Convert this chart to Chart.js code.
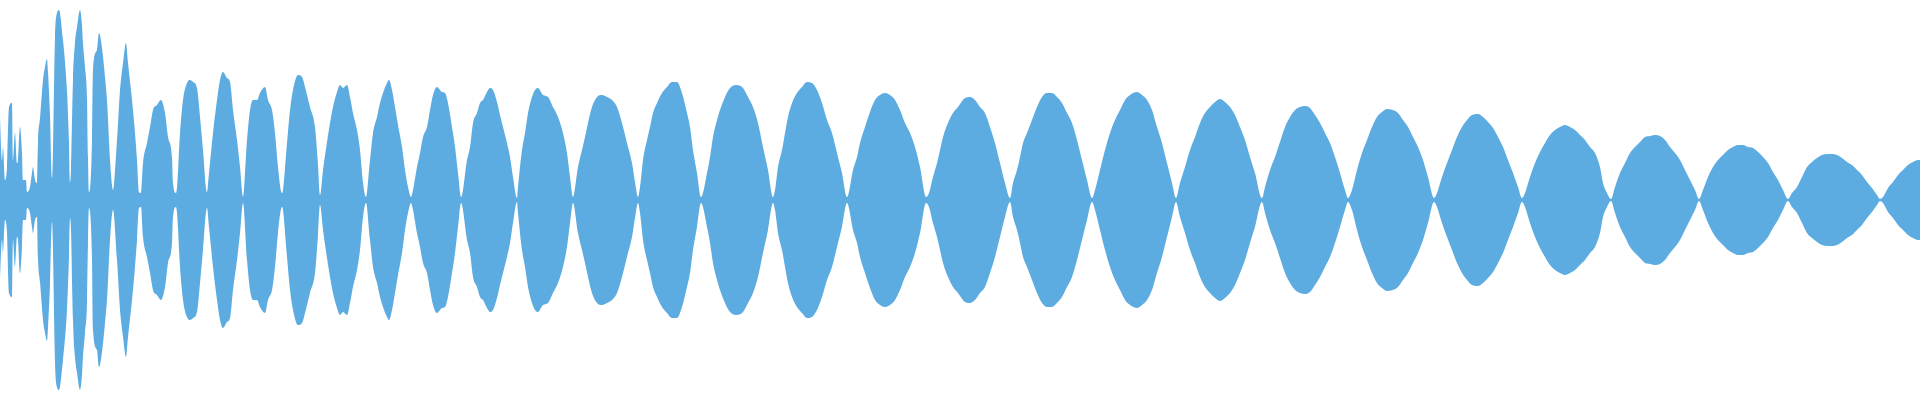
<!DOCTYPE html>
<html>
<head>
<meta charset="utf-8">
<style>
  html, body { margin: 0; padding: 0; background: #fff; }
  #wave { display: block; }
</style>
<script src="https://cdn.jsdelivr.net/npm/chart.js@4/dist/chart.umd.min.js"></script>
</head>
<body>
<canvas id="wave" width="1920" height="400"></canvas>
<script>
// 波形のエンベロープ（読み取り値）: フレーム位置とピークレベル（フルスケール 200）
const frames = [
  0, 2, 3, 5, 7, 9, 12, 13, 15, 17, 18, 20, 22, 23, 26, 27, 30, 32, 33, 35, 37, 38,
  40, 43, 45, 47, 48, 50, 52,
  55, 57, 59, 63, 67, 69, 70,
  71, 73, 75, 77, 80, 82, 83, 85, 87, 88, 89,
  92, 93, 97, 99, 102, 105, 107, 110, 113,
  117, 120, 123, 126, 128, 132, 135, 137, 139,
  141, 143, 147, 150, 153, 157, 161, 165, 168, 172, 173, 176,
  177, 180, 183, 187, 190, 193, 197, 200, 203, 207,
  209, 213, 217, 220, 223, 227, 230, 233, 237, 240, 243,
  247, 250, 253, 257, 260, 265, 268, 272, 275, 278, 282,
  283, 287, 290, 293, 298, 302, 305, 310, 315, 318, 320,
  323, 327, 330, 333, 337, 340, 343, 347, 350, 353, 357, 360, 363, 366,
  370, 373, 377, 380, 383, 387, 389, 392, 395, 398, 402, 405, 408, 411,
  413, 417, 420, 423, 427, 430, 433, 437, 442, 445, 448, 452, 455, 458, 461,
  467, 470, 473, 477, 480, 483, 487, 490, 493, 497, 500, 503, 507, 510, 513, 517,
  518, 522, 525, 528, 532, 535, 538, 543, 548, 553, 558, 563, 567, 570, 573,
  578, 582, 585, 588, 592, 597, 602, 607, 612, 617, 622, 627, 632, 635, 638,
  640, 643, 647, 650, 653, 657, 662, 667, 672, 677, 682, 687, 690, 693, 697, 701,
  707, 710, 713, 717, 720, 725, 730, 737, 743, 748, 753, 758, 763, 768, 773,
  775, 778, 782, 785, 788, 792, 797, 802, 807, 812, 817, 822, 827, 832, 837, 842, 847,
  853, 857, 860, 865, 870, 875, 880, 885, 890, 895, 900, 905, 910, 915, 920, 926,
  929, 933, 937, 940, 943, 948, 953, 958, 965, 970, 975, 980, 985, 990, 995, 1000, 1005, 1010,
  1013, 1017, 1020, 1023, 1027, 1032, 1037, 1042, 1047, 1052, 1057, 1062, 1067, 1072, 1077, 1082, 1087, 1092,
  1095, 1100, 1105, 1110, 1115, 1120, 1125, 1130, 1137, 1142, 1147, 1152, 1157, 1162, 1167, 1172, 1176,
  1180, 1185, 1190, 1195, 1200, 1205, 1210, 1215, 1220, 1225, 1230, 1235, 1240, 1245, 1250, 1255, 1262,
  1265, 1270, 1275, 1280, 1285, 1290, 1295, 1300, 1305, 1310, 1315, 1320, 1325, 1330, 1335, 1340, 1345, 1348,
  1352, 1357, 1362, 1367, 1372, 1377, 1382, 1387, 1393, 1398, 1403, 1408, 1413, 1418, 1423, 1428, 1434,
  1437, 1442, 1447, 1452, 1457, 1462, 1467, 1472, 1478, 1483, 1488, 1493, 1498, 1503, 1508, 1513, 1518, 1522,
  1525, 1530, 1535, 1540, 1545, 1550, 1555, 1560, 1565, 1570, 1575, 1580, 1585, 1590, 1595, 1600, 1603, 1607, 1611,
  1615, 1620, 1625, 1630, 1635, 1640, 1645, 1650, 1655, 1660, 1665, 1670, 1675, 1680, 1685, 1690, 1695, 1699,
  1703, 1708, 1713, 1718, 1723, 1728, 1733, 1738, 1743, 1748, 1753, 1758, 1763, 1768, 1773, 1778, 1783, 1788,
  1792, 1797, 1802, 1807, 1812, 1817, 1822, 1827, 1832, 1837, 1842, 1847, 1852, 1857, 1862, 1867, 1872, 1877, 1880,
  1883, 1888, 1893, 1898, 1903, 1908, 1913, 1918, 1920
];

const peaks = [
  82, 40, 53, 20, 33, 93, 97, 40, 67, 37, 40, 73, 47, 20, 20, 8, 13, 27, 33, 20, 17, 58,
  82, 120, 133, 141, 128, 85, 22,
  163, 187, 190, 160, 110, 57, 18,
  30, 120, 157, 173, 190, 175, 157, 133, 103, 43, 8,
  60, 130, 150, 167, 152, 123, 100, 40, 10,
  60, 110, 137, 157, 137, 100, 67, 40, 8,
  7, 37, 57, 73, 90, 95, 100, 87, 63, 43, 17, 7,
  13, 67, 100, 117, 120, 118, 112, 83, 50, 8,
  27, 67, 100, 120, 128, 122, 118, 90, 60, 33, 3,
  60, 90, 100, 100, 107, 113, 100, 90, 67, 33, 7,
  10, 57, 90, 110, 125, 123, 113, 93, 73, 35, 5,
  30, 58, 77, 93, 108, 115, 112, 115, 103, 87, 70, 50, 17, 3,
  40, 67, 83, 97, 107, 117, 120, 110, 93, 75, 53, 30, 13, 3,
  10, 33, 47, 63, 73, 90, 105, 113, 108, 107, 97, 73, 53, 27, 3,
  40, 53, 77, 87, 97, 100, 108, 112, 110, 98, 85, 73, 57, 43, 23, 2,
  13, 50, 67, 87, 103, 110, 112, 105, 103, 93, 83, 67, 47, 23, 3,
  33, 50, 63, 77, 93, 103, 105, 103, 100, 93, 77, 57, 37, 18, 3,
  13, 40, 60, 73, 87, 97, 107, 113, 118, 118, 107, 87, 73, 50, 27, 3,
  27, 43, 63, 80, 90, 103, 112, 115, 112, 103, 93, 77, 53, 30, 3,
  10, 33, 50, 67, 83, 97, 107, 113, 118, 117, 110, 97, 80, 67, 47, 27, 3,
  30, 43, 57, 73, 88, 100, 105, 107, 105, 100, 90, 77, 67, 53, 33, 3,
  7, 23, 37, 50, 63, 77, 87, 93, 102, 103, 100, 93, 87, 73, 57, 37, 17, 2,
  17, 30, 43, 57, 67, 80, 93, 103, 107, 107, 103, 97, 87, 77, 60, 40, 20, 2,
  10, 30, 50, 67, 80, 90, 100, 105, 108, 105, 100, 90, 73, 57, 37, 17, 2,
  17, 33, 50, 63, 77, 87, 93, 98, 101, 98, 93, 85, 73, 60, 43, 27, 2,
  13, 30, 43, 58, 73, 83, 90, 93, 94, 92, 85, 77, 67, 57, 43, 27, 10, 2,
  10, 30, 47, 60, 73, 83, 88, 91, 90, 87, 80, 73, 63, 53, 40, 23, 2,
  7, 23, 37, 50, 63, 73, 80, 85, 86, 83, 78, 72, 63, 53, 40, 27, 13, 2,
  7, 23, 37, 48, 57, 65, 70, 73, 75, 73, 70, 65, 60, 53, 47, 33, 17, 7, 1,
  13, 27, 37, 47, 53, 58, 63, 64, 65, 64, 60, 53, 47, 40, 30, 20, 10, 1,
  10, 23, 33, 40, 45, 50, 53, 55, 55, 53, 52, 48, 43, 37, 28, 20, 10, 1,
  7, 13, 23, 33, 38, 42, 45, 46, 46, 45, 42, 38, 35, 30, 25, 18, 12, 5, 1,
  3, 12, 18, 25, 30, 35, 38, 40, 40
];

const fullScale = 200;
const waveColor = '#5dace1';

// 上下対称に塗る
const upper = frames.map((f, i) => ({ x: f, y: peaks[i] }));
const lower = frames.map((f, i) => ({ x: f, y: -peaks[i] }));

const ctx = document.getElementById('wave').getContext('2d');
new Chart(ctx, {
  type: 'line',
  data: {
    datasets: [
      { data: upper, fill: 'origin', backgroundColor: waveColor, borderWidth: 0, pointRadius: 0, cubicInterpolationMode: 'monotone' },
      { data: lower, fill: 'origin', backgroundColor: waveColor, borderWidth: 0, pointRadius: 0, cubicInterpolationMode: 'monotone' }
    ]
  },
  options: {
    responsive: false,
    animation: false,
    layout: { padding: 0 },
    scales: {
      x: { type: 'linear', min: 0, max: 1920, display: false },
      y: { min: -fullScale, max: fullScale, display: false }
    },
    plugins: {
      legend: { display: false },
      tooltip: { enabled: false }
    }
  }
});
</script>
</body>
</html>
